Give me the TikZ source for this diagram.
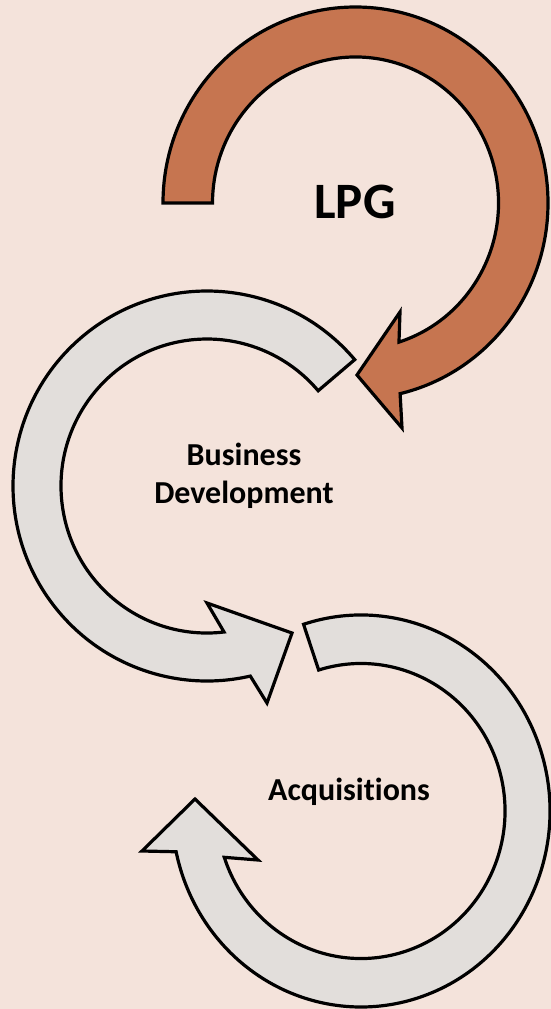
\documentclass[tikz,border=0pt]{standalone}
\usepackage{fontspec}
\setmainfont{Carlito}[RawFeature={-liga;-clig;-dlig;-calt}]
\usetikzlibrary{calc}
\definecolor{bgc}{RGB}{244,227,219}
\definecolor{orangef}{RGB}{198,117,80}
\definecolor{grayf}{RGB}{226,222,219}
\begin{document}
\begin{tikzpicture}[x=1pt,y=-1pt,
  arrowshape/.style={draw=black, line width=3.2pt, line join=miter},
  lbl/.style={font=\bfseries\fontsize{32}{38}\selectfont, inner sep=0pt, anchor=base}]
\fill[bgc] (0,0) rectangle (551,1009);
\useasboundingbox (0,0) rectangle (551,1009);

% LPG arrow
\coordinate (cL) at (355.5,203);
\draw[arrowshape, fill=orangef]
  ($(cL)+(180:192.5 and 196)$)
  arc[start angle=180, end angle=436.6, x radius=192.5, y radius=196]
  -- (402,428) -- (357,375) -- (400,312)
  -- ($(cL)+(432.3:143 and 146)$)
  arc[start angle=432.3, end angle=180, x radius=143, y radius=146]
  -- cycle;

% Business Development arrow
\coordinate (cB) at (207,486);
\draw[arrowshape, fill=grayf]
  ($(cB)+(319.6:194 and 195)$)
  arc[start angle=319.6, end angle=77.1, x radius=194, y radius=195]
  -- (267,703) -- (292,633) -- (207,603)
  -- ($(cB)+(83.3:146 and 147)$)
  arc[start angle=83.3, end angle=319.6, x radius=146, y radius=147]
  -- cycle;

% Acquisitions arrow
\coordinate (cA) at (361,811);
\draw[arrowshape, fill=grayf]
  ($(cA)+(252.3:189 and 196)$)
  arc[start angle=252.3, end angle=528, x radius=189, y radius=196]
  -- (142,851) -- (195,799) -- (258,860)
  -- ($(cA)+(521.7:144 and 147.5)$)
  arc[start angle=521.7, end angle=252.9, x radius=144, y radius=147.5]
  -- cycle;

\node[lbl, font=\bfseries\fontsize{51}{60}\selectfont] (lpg) at (355,218) {LPG};
\node[lbl] (bd1) at (244,465) {Business};
\node[lbl] (bd2) at (244,503) {Development};
\node[lbl] (acq) at (349,800) {Acquisitions};
\end{tikzpicture}
\end{document}
